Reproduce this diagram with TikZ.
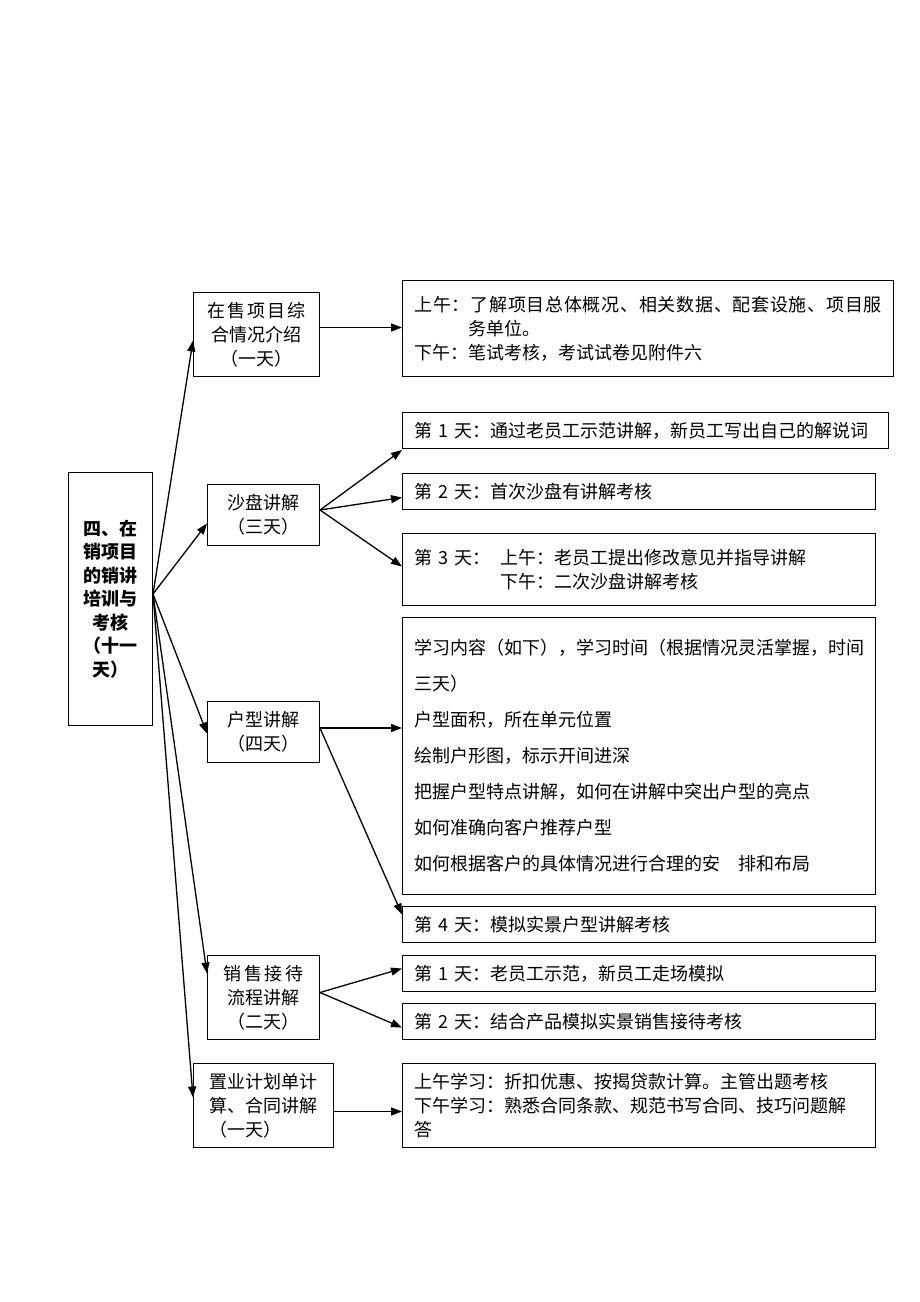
\documentclass[tikz,border=0pt]{standalone}
\usepackage{fontspec}
\setmainfont{Noto Sans CJK SC}
\usetikzlibrary{arrows.meta}
\tikzset{%
  >={Triangle[width=8pt,length=11pt]},
            base/.style = {rectangle, draw=black, line width=1pt, anchor=north west,
                           font=\fontsize{18}{24}\selectfont},
  topic/.style  = {base, align=center, inner sep=2pt},
  detail/.style = {base, align=left, inner xsep=12pt, inner ysep=3pt},
  arr/.style    = {->, line width=1.3pt},
}
\begin{document}
\begin{tikzpicture}[x=1pt, y=-1pt]
  \useasboundingbox (0,0) rectangle (920,1302);

  \node (root) [topic, minimum width=84pt, minimum height=253pt,
                font=\bfseries\fontsize{18}{23.5}\selectfont] at (68,472)
        {四、在\\销项目\\的销讲\\培训与\\考核\\（十一\\天）};

  \node (A)   [topic, minimum width=126pt, minimum height=84pt] at (193,292)
        {{\addfontfeature{LetterSpace=10}在售项目综}\\合情况介绍\\（一天）};
  \node (B)   [topic, minimum width=112pt, minimum height=61pt] at (207,484)
        {沙盘讲解\\（三天）};
  \node (C)   [topic, minimum width=112pt, minimum height=61pt] at (207,701)
        {户型讲解\\（四天）};
  \node (D)   [topic, minimum width=112pt, minimum height=84pt] at (207,955)
        {{\addfontfeature{LetterSpace=15}销售接待}\\流程讲解\\（二天）};
  \node (E)   [topic, align=left, minimum width=140pt, minimum height=84pt] at (193,1063)
        {置业计划单计\\算、合同讲解\\（一天）};

  \node (Ad)  [detail, text width=467pt, minimum height=96pt] at (402,280)
        {{\addfontfeature{LetterSpace=4}上午：了解项目总体概况、相关数据、配套设施、项目服}\\
         \phantom{上午：}务单位。\\
         下午：笔试考核，考试试卷见附件六};
  \node (B1)  [detail, text width=462pt, minimum height=36pt] at (402,412)
        {第 1 天：通过老员工示范讲解，新员工写出自己的解说词};
  \node (B2)  [detail, text width=449pt, minimum height=36pt] at (402,473)
        {第 2 天：首次沙盘有讲解考核};
  \node (B3)  [detail, text width=449pt, minimum height=72pt] at (402,533)
        {第 3 天：\hspace{10pt}上午：老员工提出修改意见并指导讲解\\
         \phantom{第 3 天：}\hspace{10pt}下午：二次沙盘讲解考核};
  \node (C1)  [detail, text width=449pt, minimum height=277pt,
               font=\fontsize{18}{36}\selectfont] at (402,617)
        {学习内容（如下），学习时间（根据情况灵活掌握，时间\\
         三天）\\
         户型面积，所在单元位置\\
         绘制户形图，标示开间进深\\
         把握户型特点讲解，如何在讲解中突出户型的亮点\\
         如何准确向客户推荐户型\\
         如何根据客户的具体情况进行合理的安\hspace{18pt}排和布局\\[-8pt]};
  \node (C2)  [detail, text width=449pt, minimum height=36pt] at (402,906)
        {第 4 天：模拟实景户型讲解考核};
  \node (D1)  [detail, text width=449pt, minimum height=36pt] at (402,955)
        {第 1 天：老员工示范，新员工走场模拟};
  \node (D2)  [detail, text width=449pt, minimum height=36pt] at (402,1003)
        {第 2 天：结合产品模拟实景销售接待考核};
  \node (E1)  [detail, text width=449pt, minimum height=84pt] at (402,1063)
        {上午学习：折扣优惠、按揭贷款计算。主管出题考核\\
         下午学习：熟悉合同条款、规范书写合同、技巧问题解\\
         答};

  \coordinate (hub) at ([yshift=5pt]root.east);
  \draw[arr] (hub) -- ([yshift=-6pt]A.west);
  \draw[arr] (hub) -- ([yshift=-8.5pt]B.west);
  \draw[arr] (hub) -- ([yshift=-1.5pt]C.west);
  \draw[arr] (hub) -- ([yshift=24pt]D.west);
  \draw[arr] (hub) -- ([yshift=8pt]E.west);

  \draw[arr] ([yshift=7pt]A.east) -- ([yshift=7pt]A.east -| Ad.west);

  \draw[arr] ([yshift=5pt]B.east) -- ([yshift=-1pt]B1.south west);
  \draw[arr] ([yshift=5pt]B.east) -- ([yshift=-6pt]B2.west);
  \draw[arr] ([yshift=5pt]B.east) -- ([yshift=3pt]B3.west);

  \draw[arr] ([yshift=4pt]C.east) -- ([yshift=4pt]C.east -| C1.west);
  \draw[arr] ([yshift=4pt]C.east) -- ([yshift=10pt]C2.west);

  \draw[arr] ([yshift=5pt]D.east) -- ([yshift=5pt]D1.west);
  \draw[arr] ([yshift=5pt]D.east) -- ([yshift=-6pt]D2.west);

  \draw[arr] ([yshift=-6pt]E.east) -- ([yshift=-6pt]E.east -| E1.west);
\end{tikzpicture}
\end{document}
